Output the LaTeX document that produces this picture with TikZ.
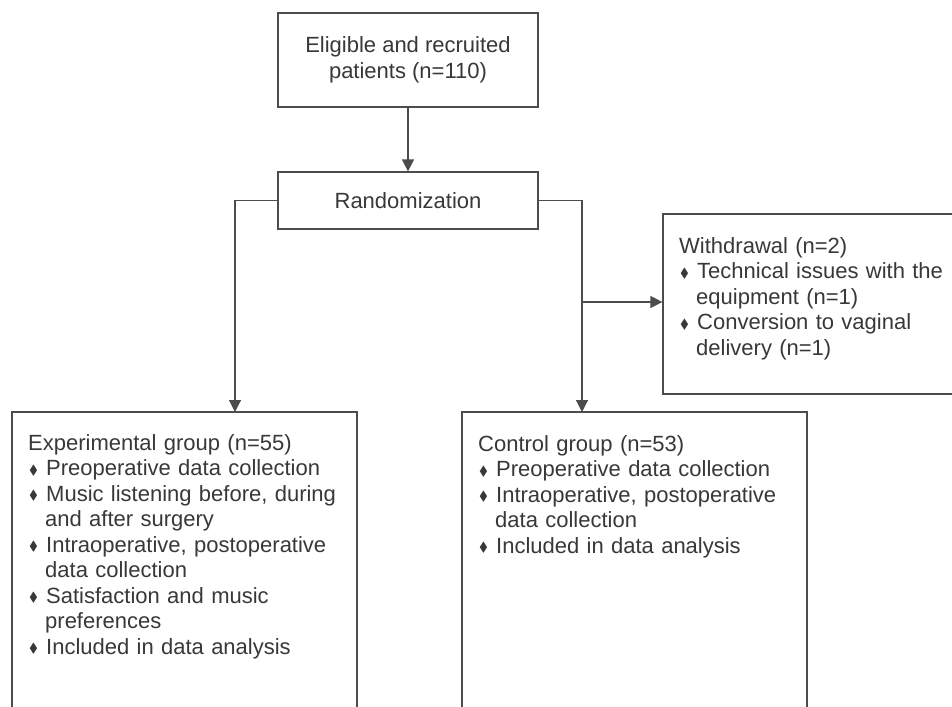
\documentclass[tikz,border=0pt]{standalone}
\usepackage{fontspec}
\usepackage{amssymb}
\setmainfont{Liberation Sans}
\usetikzlibrary{arrows.meta}

\newcommand{\bul}{\raisebox{1.5pt}{\scalebox{0.6}{$\blacklozenge$}}}
\newcommand{\bitem}[1]{\par\hangindent=17pt\hangafter=1\noindent\makebox[18pt][l]{\hspace{1pt}\bul}#1\par}

\tikzset{
  box/.style={draw=black!70, line width=1.2pt, fill=white, inner sep=0pt},
  txt/.style={text=black!78, inner sep=0pt, font=\fontsize{22}{25.5}\selectfont},
  lst/.style={txt, anchor=north west, text width=330pt, align=left},
  arr/.style={draw=black!70, line width=1.2pt, -{Triangle[length=12pt,width=12pt]}}
}

\begin{document}
\begin{tikzpicture}[x=1pt,y=-1pt]
  \useasboundingbox (0,0) rectangle (952,706);
  \clip (0,0) rectangle (952,706);

  \node[box, minimum width=260pt, minimum height=94pt] (elig) at (408,60) {};
  \node[txt, align=center] (eligtxt) at (elig) {Eligible and recruited\\patients (n=110)};
  \node[box, minimum width=260pt, minimum height=57pt] (rand) at (408,200.5) {};
  \node[txt] (randtxt) at (rand) {Randomization};

  \node[box, minimum width=345pt, minimum height=320pt] (exp) at (184.5,572) {};
  \node[box, minimum width=345pt, minimum height=320pt] (ctl) at (634.5,572) {};
  \node[box, minimum width=345pt, minimum height=180pt] (wd) at (835.5,304) {};

  \node[lst] (exptxt) at (28,434) {Experimental group (n=55)
    \bitem{Preoperative data collection}
    \bitem{Music listening before, during\newline and after surgery}
    \bitem{Intraoperative, postoperative\newline data collection}
    \bitem{Satisfaction and music\newline preferences}
    \bitem{Included in data analysis}};
  \node[lst] (ctltxt) at (478,435) {Control group (n=53)
    \bitem{Preoperative data collection}
    \bitem{Intraoperative, postoperative\newline data collection}
    \bitem{Included in data analysis}};
  \node[lst] (wdtxt) at (679,237) {Withdrawal (n=2)
    \bitem{Technical issues with the\newline equipment (n=1)}
    \bitem{Conversion to vaginal\newline delivery (n=1)}};

  \coordinate (expin) at (235,412);
  \coordinate (ctlin) at (582,412);
  \coordinate (split) at (582,302);

  \draw[arr] (elig) -- (rand);
  \draw[arr] (rand.west) -| (expin);
  \draw[arr] (rand.east) -| (ctlin);
  \draw[arr] (split) -- (split -| wd.west);
\end{tikzpicture}
\end{document}
